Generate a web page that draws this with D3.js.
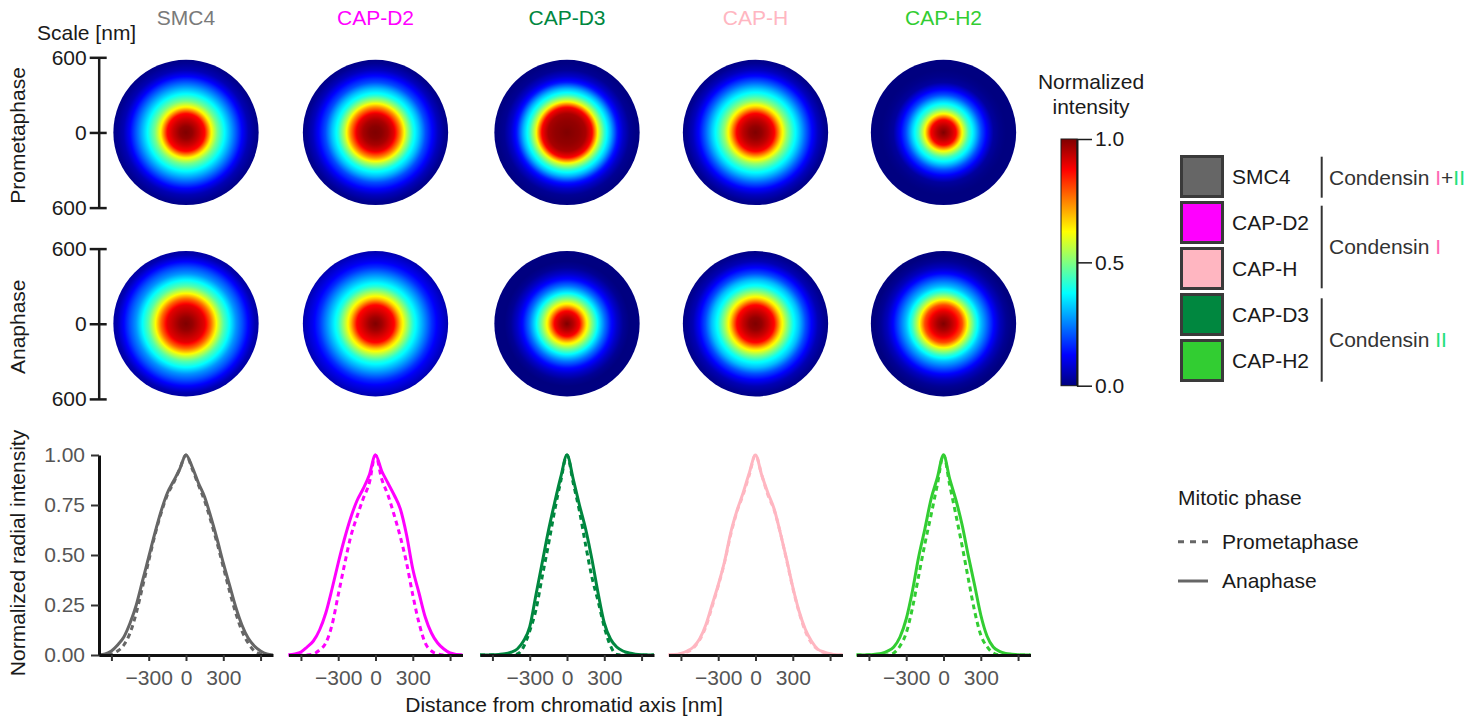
<!DOCTYPE html>
<html><head><meta charset="utf-8">
<script src="https://cdn.jsdelivr.net/npm/d3@7"></script>
<style>
html,body{margin:0;padding:0;background:#fff;}
svg text{font-family:"Liberation Sans",Arial,Helvetica,sans-serif;}
</style></head><body>
<svg id="chart" width="1478" height="724"></svg>
<script>
// ---------------- DATA ----------------
const proteins = ["SMC4", "CAP-D2", "CAP-D3", "CAP-H", "CAP-H2"];
const phases = ["Prometaphase", "Anaphase"];
const legendOrder = ["SMC4", "CAP-D2", "CAP-H", "CAP-D3", "CAP-H2"];

// radial line profiles (bottom row)
const distanceNm = [-700,-650,-600,-550,-500,-450,-400,-350,-300,-250,-200,-150,-100,-50,0,50,100,150,200,250,300,350,400,450,500,550,600,650,700];

const smc4Prometaphase = [0,0,0.005,0.02,0.05,0.11,0.21,0.34,0.47,0.60,0.71,0.80,0.86,0.93,1.00,0.93,0.85,0.77,0.67,0.56,0.44,0.32,0.21,0.12,0.06,0.02,0.005,0,0];
const smc4Anaphase     = [0,0.005,0.02,0.05,0.09,0.16,0.25,0.37,0.49,0.61,0.72,0.81,0.87,0.93,1.00,0.94,0.86,0.79,0.69,0.58,0.46,0.35,0.24,0.15,0.085,0.045,0.02,0.005,0];
const capD2Prometaphase = [0,0,0,0,0.005,0.025,0.06,0.15,0.30,0.45,0.59,0.69,0.78,0.86,1.00,0.88,0.80,0.70,0.59,0.46,0.30,0.16,0.06,0.02,0.005,0,0,0,0];
const capD2Anaphase     = [0,0.005,0.015,0.04,0.07,0.125,0.21,0.33,0.46,0.58,0.685,0.77,0.83,0.90,1.00,0.92,0.86,0.80,0.73,0.60,0.43,0.31,0.19,0.11,0.06,0.03,0.01,0.003,0];
const capD3Prometaphase = [0,0,0,0,0,0,0.005,0.04,0.12,0.225,0.39,0.55,0.72,0.87,1.00,0.86,0.72,0.55,0.39,0.27,0.14,0.045,0.003,0,0,0,0,0,0];
const capD3Anaphase     = [0,0,0.001,0.003,0.006,0.014,0.03,0.07,0.14,0.30,0.46,0.62,0.76,0.89,1.00,0.88,0.75,0.63,0.48,0.31,0.16,0.08,0.04,0.02,0.01,0.004,0.001,0,0];
const capHPrometaphase = [0,0.001,0.005,0.015,0.035,0.075,0.14,0.24,0.345,0.46,0.60,0.715,0.80,0.90,1.00,0.90,0.80,0.725,0.61,0.475,0.335,0.215,0.12,0.06,0.028,0.012,0.004,0.001,0];
const capHAnaphase     = [0,0.002,0.008,0.02,0.04,0.08,0.15,0.25,0.35,0.465,0.61,0.72,0.81,0.91,1.00,0.90,0.81,0.73,0.61,0.48,0.34,0.22,0.13,0.07,0.03,0.015,0.006,0.001,0];
const capH2Prometaphase = [0,0,0,0,0,0,0.01,0.045,0.11,0.235,0.395,0.555,0.70,0.85,1.00,0.85,0.70,0.545,0.38,0.22,0.10,0.042,0.01,0.001,0,0,0,0,0];
const capH2Anaphase     = [0,0,0.001,0.004,0.008,0.019,0.04,0.09,0.18,0.32,0.49,0.63,0.78,0.885,1.00,0.88,0.775,0.65,0.495,0.35,0.20,0.095,0.04,0.018,0.008,0.004,0.001,0,0];

// radial heat maps (top two rows): intensity vs radius
const heatRadiusNm = [0,50,100,150,200,250,300,350,400,450,500,550,600];
const heatSmc4Prometaphase  = [1.0,0.98,0.93,0.87,0.64,0.49,0.39,0.30,0.21,0.12,0.05,0.02,0.0];
const heatCapD2Prometaphase = [1.0,0.99,0.96,0.90,0.74,0.55,0.40,0.31,0.20,0.13,0.06,0.02,0.0];
const heatCapD3Prometaphase = [1.0,0.99,0.98,0.96,0.88,0.60,0.42,0.30,0.15,0.07,0.02,0.005,0.0];
const heatCapHPrometaphase  = [1.0,0.98,0.94,0.88,0.68,0.52,0.41,0.32,0.22,0.13,0.06,0.02,0.0];
const heatCapH2Prometaphase = [1.0,0.95,0.88,0.62,0.44,0.33,0.20,0.11,0.03,0.01,0.0,0.0,0.0];
const heatSmc4Anaphase  = [1.0,0.98,0.94,0.90,0.77,0.60,0.46,0.37,0.27,0.20,0.12,0.05,0.02];
const heatCapD2Anaphase = [1.0,0.97,0.92,0.87,0.68,0.54,0.41,0.33,0.25,0.17,0.11,0.07,0.03];
const heatCapD3Anaphase = [1.0,0.95,0.88,0.66,0.50,0.36,0.24,0.14,0.07,0.02,0.0,0.0,0.0];
const heatCapHAnaphase  = [1.0,0.98,0.93,0.87,0.67,0.52,0.39,0.31,0.20,0.12,0.05,0.02,0.0];
const heatCapH2Anaphase = [1.0,0.96,0.90,0.80,0.59,0.43,0.31,0.22,0.13,0.06,0.02,0.0,0.0];

const discRadiusNm = 580;
const scaleTicks = [-600, 0, 600];
const profileYTicks = [0, 0.25, 0.5, 0.75, 1];
const profileXTicks = [-600, -300, 0, 300, 600];
const colorbarTicks = [0, 0.5, 1];

// ---------------- STYLE / LAYOUT ----------------
const proteinColors = {"SMC4":"#666666","CAP-D2":"#ff00ff","CAP-D3":"#00873f","CAP-H":"#ffb6c1","CAP-H2":"#32cd32"};
const titleColors = {"SMC4":"#7a7a7a","CAP-D2":"#ff00ff","CAP-D3":"#00873f","CAP-H":"#ffb6c1","CAP-H2":"#32cd32"};
const colCenters = [186, 375.5, 567, 755.5, 943.5];
const rowRanges = [[57.3, 207.6], [248.6, 398.9]];
const FS = 21;

const profiles = {
  "SMC4":[smc4Prometaphase, smc4Anaphase],
  "CAP-D2":[capD2Prometaphase, capD2Anaphase],
  "CAP-D3":[capD3Prometaphase, capD3Anaphase],
  "CAP-H":[capHPrometaphase, capHAnaphase],
  "CAP-H2":[capH2Prometaphase, capH2Anaphase]
};
const heats = {
  "SMC4":[heatSmc4Prometaphase, heatSmc4Anaphase],
  "CAP-D2":[heatCapD2Prometaphase, heatCapD2Anaphase],
  "CAP-D3":[heatCapD3Prometaphase, heatCapD3Anaphase],
  "CAP-H":[heatCapHPrometaphase, heatCapHAnaphase],
  "CAP-H2":[heatCapH2Prometaphase, heatCapH2Anaphase]
};

function jet(v){
  const c = x => Math.max(0, Math.min(1, x));
  const r = c(1.5 - Math.abs(4*v - 3)), g = c(1.5 - Math.abs(4*v - 2)), b = c(1.5 - Math.abs(4*v - 1));
  return d3.rgb(r*255, g*255, b*255).formatHex();
}

const svg = d3.select("#chart");
const defs = svg.append("defs");

// ---------------- TOP: heat discs ----------------
svg.append("text").attr("x", 37).attr("y", 40).attr("font-size", FS).attr("fill", "#1a1a1a").text("Scale [nm]");

proteins.forEach((p, i) => {
  svg.append("text").attr("x", colCenters[i]).attr("y", 25).attr("text-anchor", "middle")
    .attr("font-size", FS).attr("fill", titleColors[p]).text(p);
});

phases.forEach((ph, k) => {
  const yS = d3.scaleLinear().domain([-600, 600]).range(rowRanges[k]);
  const ax = svg.append("g").attr("transform", "translate(98.7,0)")
    .call(d3.axisLeft(yS).tickValues(scaleTicks).tickFormat(d => Math.abs(d)).tickSize(9).tickSizeOuter(0).tickPadding(3));
  ax.select(".domain").attr("stroke", "#1a1a1a").attr("stroke-width", 2.5);
  ax.selectAll(".tick line").attr("x1", 8).attr("stroke", "#1a1a1a").attr("stroke-width", 2.5);
  ax.selectAll(".tick text").attr("font-size", FS).attr("fill", "#1a1a1a").attr("font-family", "Liberation Sans, Arial, sans-serif");

  svg.append("text").attr("transform", `translate(25,${(rowRanges[k][0]+rowRanges[k][1])/2 + 3}) rotate(-90)`)
    .attr("text-anchor", "middle").attr("font-size", FS).attr("fill", "#1a1a1a").text(ph);

  const rPx = yS(discRadiusNm) - yS(0);
  proteins.forEach((p, i) => {
    const hs = d3.scaleLinear().domain(heatRadiusNm).range(heats[p][k]).clamp(true);
    const id = `g_${k}_${i}`;
    const grad = defs.append("radialGradient").attr("id", id).attr("cx", 0.5).attr("cy", 0.5).attr("r", 0.5);
    d3.range(0, 1.0001, 0.01).forEach(t => {
      grad.append("stop").attr("offset", t).attr("stop-color", jet(hs(t * discRadiusNm)));
    });
    svg.append("circle").attr("cx", colCenters[i]).attr("cy", yS(0)).attr("r", rPx).attr("fill", `url(#${id})`);
  });
});

// ---------------- COLORBAR ----------------
const cbX = 1061, cbW = 16;
const cbS = d3.scaleLinear().domain([0, 1]).range([385.7, 139]);
const lg = defs.append("linearGradient").attr("id", "cbgrad").attr("x1", 0).attr("y1", 1).attr("x2", 0).attr("y2", 0);
d3.range(0, 1.0001, 0.025).forEach(t => lg.append("stop").attr("offset", t).attr("stop-color", jet(t)));
svg.append("rect").attr("x", cbX).attr("y", cbS(1)).attr("width", cbW).attr("height", cbS(0) - cbS(1))
  .attr("fill", "url(#cbgrad)").attr("stroke", "#1a1a1a").attr("stroke-width", 1);
const cbAx = svg.append("g").attr("transform", `translate(${cbX + cbW},0)`)
  .call(d3.axisRight(cbS).tickValues(colorbarTicks).tickFormat(d3.format(".1f")).tickSize(15).tickSizeOuter(0).tickPadding(3));
cbAx.select(".domain").attr("stroke", "#1a1a1a").attr("stroke-width", 2);
cbAx.selectAll(".tick line").attr("stroke", "#1a1a1a").attr("stroke-width", 1.5);
cbAx.selectAll(".tick text").attr("font-size", FS).attr("fill", "#1a1a1a").attr("font-family", "Liberation Sans, Arial, sans-serif");
svg.append("text").attr("x", 1091).attr("y", 89).attr("text-anchor", "middle").attr("font-size", FS).attr("fill", "#1a1a1a").text("Normalized");
svg.append("text").attr("x", 1091).attr("y", 114).attr("text-anchor", "middle").attr("font-size", FS).attr("fill", "#1a1a1a").text("intensity");

// ---------------- PROTEIN LEGEND ----------------
legendOrder.forEach((p, j) => {
  const y0 = 155 + j * 46;
  svg.append("rect").attr("x", 1181.5).attr("y", y0 + 1.5).attr("width", 41).attr("height", 40)
    .attr("fill", proteinColors[p]).attr("stroke", "#3a3a3a").attr("stroke-width", 3);
  svg.append("text").attr("x", 1232).attr("y", y0 + 22).attr("dy", "0.35em").attr("font-size", FS).attr("fill", "#1a1a1a").text(p);
});
const brackets = [
  {y1: 156.7, y2: 197.7, parts: [["Condensin ", "#333333"], ["I", "#ff69b4"], ["+", "#333333"], ["II", "#22e07a"]]},
  {y1: 205.7, y2: 288.3, parts: [["Condensin ", "#333333"], ["I", "#ff69b4"]]},
  {y1: 298.3, y2: 381.7, parts: [["Condensin ", "#333333"], ["II", "#22e07a"]]}
];
brackets.forEach(b => {
  svg.append("line").attr("x1", 1321.7).attr("x2", 1321.7).attr("y1", b.y1).attr("y2", b.y2).attr("stroke", "#333").attr("stroke-width", 2);
  const t = svg.append("text").attr("x", 1329).attr("y", (b.y1 + b.y2) / 2).attr("dy", "0.35em").attr("font-size", FS);
  b.parts.forEach(pt => t.append("tspan").attr("fill", pt[1]).text(pt[0]));
});

// ---------------- BOTTOM: line profiles ----------------
const yP = d3.scaleLinear().domain([0, 1]).range([655, 455]);
proteins.forEach((p, i) => {
  const c = colCenters[i];
  const xP = d3.scaleLinear().domain([-700, 700]).range([c - 87, c + 87]);
  const line = d3.line().x((d, k) => xP(distanceNm[k])).y(d => yP(d)).curve(d3.curveMonotoneX);
  // prometaphase dashed, anaphase solid
  svg.append("path").datum(profiles[p][0]).attr("d", line).attr("fill", "none")
    .attr("stroke", proteinColors[p]).attr("stroke-width", 3).attr("stroke-dasharray", "5,4");
  svg.append("path").datum(profiles[p][1]).attr("d", line).attr("fill", "none")
    .attr("stroke", proteinColors[p]).attr("stroke-width", 3);

  const xa = svg.append("g").attr("transform", "translate(0,655)")
    .call(d3.axisBottom(xP).tickValues(profileXTicks).tickFormat(d => Math.abs(d) === 600 ? "" : d3.format("")(d))
      .tickSize(6).tickSizeOuter(0).tickPadding(9));
  xa.select(".domain").attr("stroke", "#111").attr("stroke-width", 3);
  xa.selectAll(".tick line").attr("stroke", "#333").attr("stroke-width", 2);
  xa.selectAll(".tick text").attr("font-size", FS).attr("fill", "#555").attr("font-family", "Liberation Sans, Arial, sans-serif");
});
const ya = svg.append("g").attr("transform", `translate(${colCenters[0] - 87},0)`)
  .call(d3.axisLeft(yP).tickValues(profileYTicks).tickFormat(d3.format(".2f")).tickSize(8).tickSizeOuter(0).tickPadding(6));
ya.select(".domain").attr("stroke", "#111").attr("stroke-width", 3);
ya.selectAll(".tick line").attr("stroke", "#333").attr("stroke-width", 2);
ya.selectAll(".tick text").attr("font-size", FS).attr("fill", "#555").attr("font-family", "Liberation Sans, Arial, sans-serif");

svg.append("text").attr("transform", "translate(25,553) rotate(-90)").attr("text-anchor", "middle")
  .attr("font-size", FS).attr("fill", "#1a1a1a").text("Normalized radial intensity");
svg.append("text").attr("x", 564).attr("y", 712).attr("text-anchor", "middle")
  .attr("font-size", FS).attr("fill", "#1a1a1a").text("Distance from chromatid axis [nm]");

// ---------------- PHASE LEGEND ----------------
svg.append("text").attr("x", 1178).attr("y", 505).attr("font-size", FS).attr("fill", "#1a1a1a").text("Mitotic phase");
svg.append("line").attr("x1", 1178).attr("x2", 1208).attr("y1", 541.7).attr("y2", 541.7)
  .attr("stroke", "#666").attr("stroke-width", 3).attr("stroke-dasharray", "6,6");
svg.append("text").attr("x", 1222).attr("y", 548.5).attr("font-size", FS).attr("fill", "#1a1a1a").text(phases[0]);
svg.append("line").attr("x1", 1178).attr("x2", 1208).attr("y1", 581).attr("y2", 581)
  .attr("stroke", "#666").attr("stroke-width", 3);
svg.append("text").attr("x", 1222).attr("y", 588).attr("font-size", FS).attr("fill", "#1a1a1a").text(phases[1]);
</script>
</body></html>
